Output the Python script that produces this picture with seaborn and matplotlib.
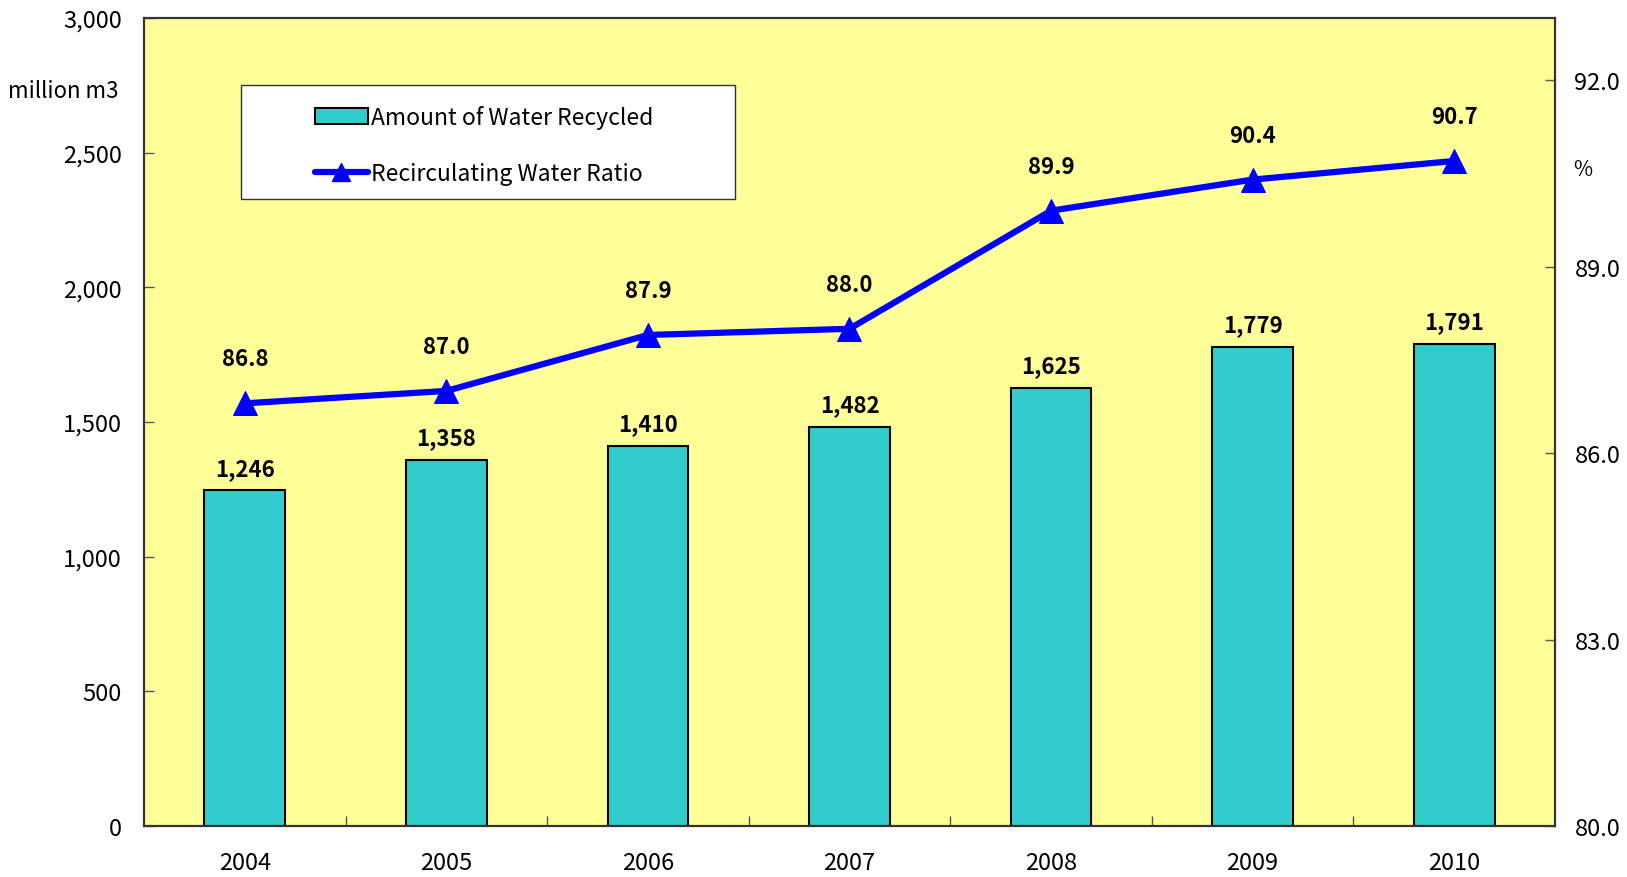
import numpy as np
import pandas as pd
import matplotlib
matplotlib.use("Agg")
import matplotlib.pyplot as plt
import seaborn as sns
from matplotlib.ticker import FuncFormatter, FixedLocator
from matplotlib.patches import Patch, Rectangle
from matplotlib.lines import Line2D

# data
years = ["2004", "2005", "2006", "2007", "2008", "2009", "2010"]
recycled = [1246, 1358, 1410, 1482, 1625, 1779, 1791]   # million m3
ratio = [86.8, 87.0, 87.9, 88.0, 89.9, 90.4, 90.7]      # %

df = pd.DataFrame({"Year": years, "Recycled": recycled, "Ratio": ratio})

sns.set_theme(style="white")
plt.rcParams['font.family'] = ['Noto Sans CJK JP', 'DejaVu Sans']
plt.rcParams['text.color'] = 'black'

fig = plt.figure(figsize=(16.27, 8.78), dpi=100)
ax = fig.add_axes([144 / 1627, 1 - 827 / 878, 1411 / 1627, 808 / 878])
ax.set_facecolor("#FFFF99")

# bars
sns.barplot(data=df, x="Year", y="Recycled", color="#33CCCC", saturation=1,
            width=0.40, edgecolor="black", linewidth=1.5, ax=ax, zorder=2)
ax.set_ylim(0, 3000)
ax.set_xlim(-0.5, len(years) - 0.5)
ax.set_yticks(np.arange(0, 3001, 500))
ax.yaxis.set_major_formatter(FuncFormatter(lambda v, p: f"{int(v):,}"))
ax.tick_params(axis="y", direction="in", length=7, width=1, labelsize=17,
               pad=16, colors="#555555", labelcolor="black")
ax.tick_params(axis="x", which="major", length=0, labelsize=17, pad=18,
               labelcolor="black")
ax.xaxis.set_minor_locator(FixedLocator(np.arange(0.5, len(years) - 0.5, 1)))
ax.tick_params(axis="x", which="minor", direction="in", length=7, width=1,
               colors="#555555", bottom=True)
ax.set_xlabel("")
ax.set_ylabel("")
for sp in ax.spines.values():
    sp.set_color("#333333")
    sp.set_linewidth(1.5)

for i, v in enumerate(recycled):
    ax.text(i, v + 40, f"{v:,}", ha="center", va="bottom",
            fontsize=16, fontweight="bold", color="black")

# line on secondary axis
ax2 = ax.twinx()
sns.lineplot(x=np.arange(len(years)), y=ratio, ax=ax2, color="#0000FF",
             linewidth=4.5, marker="^", markersize=17, markeredgecolor="#0000FF",
             zorder=3)
ax2.set_ylim(80, 93)
ax2.set_yticks([80, 83, 86, 89, 92])
ax2.yaxis.set_major_formatter(FuncFormatter(lambda v, p: f"{v:.1f}"))
ax2.tick_params(axis="y", direction="in", length=7, width=1, labelsize=17,
                pad=14, colors="#555555", labelcolor="black")
ax2.set_ylabel("")
for sp in ax2.spines.values():
    sp.set_color("#333333")
    sp.set_linewidth(1.5)

for i, v in enumerate(ratio):
    ax2.text(i, v + 0.53, f"{v:.1f}", ha="center", va="bottom",
             fontsize=16, fontweight="bold", color="black")

# axis unit labels
fig.text(119 / 1627, 1 - 91 / 878, "million m3", ha="right", va="center", fontsize=16)
fig.text(1573 / 1627, 1 - 170 / 878, "%", ha="left", va="center", fontsize=15)

# legend box drawn separately so the entries sit inset like the original
box_x0, box_x1 = (241 - 144) / 1411, (735 - 144) / 1411
box_y0, box_y1 = (827 - 200) / 808, (827 - 86) / 808
ax2.add_patch(Rectangle((box_x0, box_y0), box_x1 - box_x0, box_y1 - box_y0,
                        transform=ax2.transAxes, facecolor="white",
                        edgecolor="#333333", linewidth=1, zorder=4))
handles = [Patch(facecolor="#33CCCC", edgecolor="black", linewidth=1.5),
           Line2D([0], [0], color="#0000FF", linewidth=4.5, marker="^",
                  markersize=13)]
leg = ax2.legend(handles, ["Amount of Water Recycled", "Recirculating Water Ratio"],
                 loc="center left",
                 bbox_to_anchor=((315 - 144) / 1411, (827 - 146) / 808),
                 frameon=False, fontsize=16.5, handlelength=2.3,
                 handletextpad=0.15, labelspacing=1.45, borderpad=0,
                 borderaxespad=0)
leg.set_zorder(5)

fig.savefig("out.png", dpi=100)
